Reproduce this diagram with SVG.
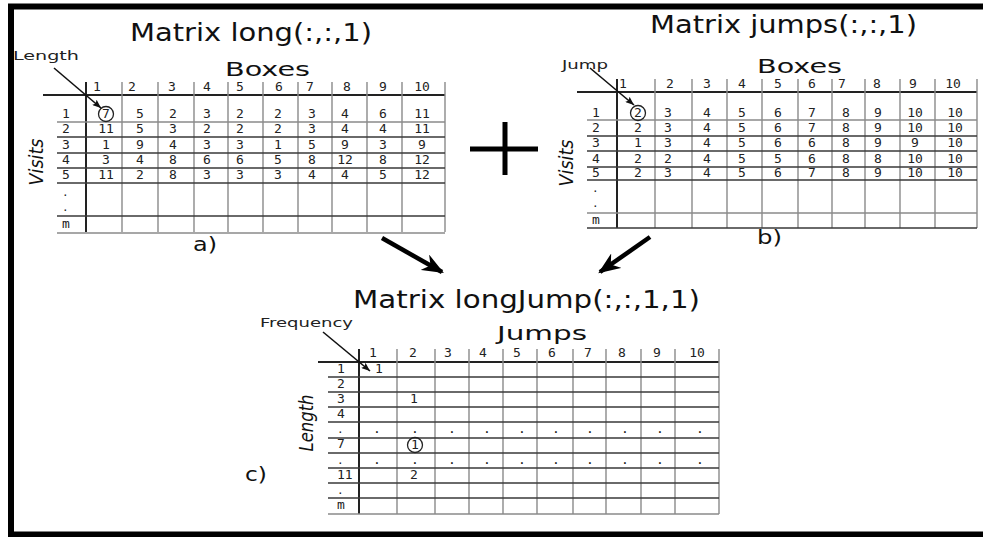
<svg xmlns="http://www.w3.org/2000/svg" width="983" height="537" viewBox="0 0 983 537">
<style>
.ti{font-family:"DejaVu Sans","Liberation Sans",sans-serif;font-size:24px;fill:#111}
.ax{font-family:"DejaVu Sans","Liberation Sans",sans-serif;font-size:19px;fill:#111}
.it{font-family:"DejaVu Sans","Liberation Sans",sans-serif;font-size:19px;font-style:italic;fill:#111;text-anchor:middle}
.sm{font-family:"DejaVu Sans","Liberation Sans",sans-serif;font-size:12px;fill:#222}
.n{font-family:"DejaVu Sans Mono","Liberation Mono",monospace;font-size:13px;fill:#222;text-anchor:middle}
.r{font-family:"DejaVu Sans Mono","Liberation Mono",monospace;font-size:13px;fill:#222}
.d{font-size:11px}
.gl{stroke:#8a8a8a;stroke-width:1.4;fill:none}
.gd{stroke:#3a3a3a;stroke-width:1.4;fill:none}
.hd{stroke:#222;stroke-width:2;fill:none}
.cr{fill:none;stroke:#222;stroke-width:1.3}
.pt{stroke:#111;stroke-width:1.6;fill:none}
.big{stroke:#000;stroke-width:4.5;fill:none}
</style>
<defs>
<marker id="bigHead" viewBox="0 0 20 16" refX="18" refY="8" markerWidth="22" markerHeight="18" orient="auto" markerUnits="userSpaceOnUse"><path d="M0,0 L20,8 L0,16 L6,8 z" fill="#000"/></marker>
<marker id="smHead" viewBox="0 0 10 8" refX="10" refY="4" markerWidth="9" markerHeight="7" orient="auto" markerUnits="userSpaceOnUse"><path d="M0,0 L10,4 L0,8 L2,4 z" fill="#111"/></marker>
</defs>
<rect width="983" height="537" fill="#fff"/>
<rect id="frame" x="11" y="6.5" width="1000" height="528" fill="none" stroke="#000" stroke-width="6"/>

<g id="matrix-long">
<text class="ti" x="130" y="41" textLength="242" lengthAdjust="spacingAndGlyphs">Matrix long(:,:,1)</text>
<text class="ax" x="225" y="76" textLength="85" lengthAdjust="spacingAndGlyphs">Boxes</text>
<text class="sm" x="13" y="60" textLength="66" lengthAdjust="spacingAndGlyphs">Length</text>
<text class="it" transform="translate(43,162) rotate(-90)" textLength="47" lengthAdjust="spacingAndGlyphs">Visits</text>
<text class="ax" x="193" y="251" textLength="24" lengthAdjust="spacingAndGlyphs">a)</text>
<path class="hd" d="M43,95 H445"/>
<path class="hd" d="M86,82 V232"/>
<path class="gl" d="M122,82 V232 M158,82 V232 M194,82 V232 M228,82 V232 M263,82 V232 M298,82 V232 M332,82 V232 M367,82 V232 M402,82 V232 M445,82 V232"/>
<path class="gl" d="M57,122 H445 M57,233 H445"/>
<path class="gd" d="M57,137 H445 M57,153 H445 M57,168 H445 M57,183 H445 M57,216 H445"/>
<g class="n">
<text x="97" y="91">1</text><text x="132" y="91">2</text><text x="172" y="91">3</text><text x="207" y="91">4</text><text x="240" y="91">5</text><text x="279" y="91">6</text><text x="310" y="91">7</text><text x="347" y="91">8</text><text x="383" y="91">9</text><text x="422" y="91">10</text>
</g>
<g class="r">
<text x="62" y="118">1</text><text x="62" y="133">2</text><text x="62" y="149">3</text><text x="62" y="164">4</text><text x="62" y="179">5</text><text class="d" x="62" y="196">.</text><text class="d" x="62" y="211">.</text><text x="62" y="228">m</text>
</g>
<circle class="cr" cx="106" cy="114" r="7.5"/>
<g class="n">
<text x="106" y="118">7</text><text x="140" y="118">5</text><text x="173" y="118">2</text><text x="207" y="118">3</text><text x="240" y="118">2</text><text x="278" y="118">2</text><text x="312" y="118">3</text><text x="345" y="118">4</text><text x="383" y="118">6</text><text x="422" y="118">11</text>
<text x="106" y="133">11</text><text x="140" y="133">5</text><text x="173" y="133">3</text><text x="207" y="133">2</text><text x="240" y="133">2</text><text x="278" y="133">2</text><text x="312" y="133">3</text><text x="345" y="133">4</text><text x="383" y="133">4</text><text x="422" y="133">11</text>
<text x="106" y="149">1</text><text x="140" y="149">9</text><text x="173" y="149">4</text><text x="207" y="149">3</text><text x="240" y="149">3</text><text x="278" y="149">1</text><text x="312" y="149">5</text><text x="345" y="149">9</text><text x="383" y="149">3</text><text x="422" y="149">9</text>
<text x="106" y="164">3</text><text x="140" y="164">4</text><text x="173" y="164">8</text><text x="207" y="164">6</text><text x="240" y="164">6</text><text x="278" y="164">5</text><text x="312" y="164">8</text><text x="345" y="164">12</text><text x="383" y="164">8</text><text x="422" y="164">12</text>
<text x="106" y="179">11</text><text x="140" y="179">2</text><text x="173" y="179">8</text><text x="207" y="179">3</text><text x="240" y="179">3</text><text x="278" y="179">3</text><text x="312" y="179">4</text><text x="345" y="179">4</text><text x="383" y="179">5</text><text x="422" y="179">12</text>
</g>
</g>

<g id="plus">
<path d="M470,149 H538 M505,122 V175" stroke="#000" stroke-width="5" fill="none"/>
</g>

<g id="matrix-jumps">
<text class="ti" x="650" y="33" textLength="267" lengthAdjust="spacingAndGlyphs">Matrix jumps(:,:,1)</text>
<text class="ax" x="757" y="73" textLength="85" lengthAdjust="spacingAndGlyphs">Boxes</text>
<text class="sm" x="562" y="69" textLength="46" lengthAdjust="spacingAndGlyphs">Jump</text>
<text class="it" transform="translate(573,163) rotate(-90)" textLength="47" lengthAdjust="spacingAndGlyphs">Visits</text>
<text class="ax" x="757" y="244" textLength="25" lengthAdjust="spacingAndGlyphs">b)</text>
<path class="hd" d="M577,92 H977"/>
<path class="hd" d="M617,79 V228"/>
<path class="gl" d="M655,79 V228 M692,79 V228 M727,79 V228 M762,79 V228 M798,79 V228 M832,79 V228 M865,79 V228 M900,79 V228 M935,79 V228 M977,79 V228"/>
<path class="gl" d="M587,120 H977 M587,213 H977"/>
<path class="gd" d="M587,136 H977 M587,151 H977 M587,167 H977 M587,180 H977 M587,228 H977"/>
<g class="n">
<text x="623" y="88">1</text><text x="670" y="88">2</text><text x="707" y="88">3</text><text x="742" y="88">4</text><text x="778" y="88">5</text><text x="812" y="88">6</text><text x="842" y="88">7</text><text x="877" y="88">8</text><text x="913" y="88">9</text><text x="953" y="88">10</text>
</g>
<g class="r">
<text x="592" y="117">1</text><text x="592" y="132">2</text><text x="592" y="147">3</text><text x="592" y="163">4</text><text x="592" y="177">5</text><text class="d" x="592" y="192">.</text><text class="d" x="592" y="207">.</text><text x="592" y="224">m</text>
</g>
<circle class="cr" cx="638" cy="113" r="7.5"/>
<g class="n">
<text x="638" y="117">2</text><text x="668" y="117">3</text><text x="707" y="117">4</text><text x="742" y="117">5</text><text x="778" y="117">6</text><text x="812" y="117">7</text><text x="846" y="117">8</text><text x="878" y="117">9</text><text x="915" y="117">10</text><text x="955" y="117">10</text>
<text x="638" y="132">2</text><text x="668" y="132">3</text><text x="707" y="132">4</text><text x="742" y="132">5</text><text x="778" y="132">6</text><text x="812" y="132">7</text><text x="846" y="132">8</text><text x="878" y="132">9</text><text x="915" y="132">10</text><text x="955" y="132">10</text>
<text x="638" y="147">1</text><text x="668" y="147">3</text><text x="707" y="147">4</text><text x="742" y="147">5</text><text x="778" y="147">6</text><text x="812" y="147">6</text><text x="846" y="147">8</text><text x="878" y="147">9</text><text x="915" y="147">9</text><text x="955" y="147">10</text>
<text x="638" y="163">2</text><text x="668" y="163">2</text><text x="707" y="163">4</text><text x="742" y="163">5</text><text x="778" y="163">5</text><text x="812" y="163">6</text><text x="846" y="163">8</text><text x="878" y="163">8</text><text x="915" y="163">10</text><text x="955" y="163">10</text>
<text x="638" y="177">2</text><text x="668" y="177">3</text><text x="707" y="177">4</text><text x="742" y="177">5</text><text x="778" y="177">6</text><text x="812" y="177">7</text><text x="846" y="177">8</text><text x="878" y="177">9</text><text x="915" y="177">10</text><text x="955" y="177">10</text>
</g>
</g>

<g id="matrix-longjump">
<text class="ti" x="353" y="308" font-size="25" textLength="347" lengthAdjust="spacingAndGlyphs">Matrix longJump(:,:,1,1)</text>
<text class="ax" x="497" y="340" font-size="20" textLength="90" lengthAdjust="spacingAndGlyphs">Jumps</text>
<text class="sm" x="260" y="327" textLength="93" lengthAdjust="spacingAndGlyphs">Frequency</text>
<text class="it" transform="translate(313,423) rotate(-90)" textLength="57" lengthAdjust="spacingAndGlyphs">Length</text>
<text class="ax" x="245" y="481" textLength="22" lengthAdjust="spacingAndGlyphs">c)</text>
<path class="hd" d="M318,362 H719"/>
<path class="hd" d="M359,349 V514" stroke-width="2.5"/>
<path class="gl" d="M397,349 V514 M435,349 V514 M469,349 V514 M503,349 V514 M537,349 V514 M573,349 V514 M606,349 V514 M641,349 V514 M675,349 V514 M719,349 V514"/>
<path class="gd" d="M328,377 H719 M328,392 H719 M328,407 H719 M328,422 H719 M328,438 H719 M328,453 H719 M328,468 H719 M328,483 H719 M328,498 H719"/>
<path class="gl" d="M328,514 H719"/>
<g class="n">
<text x="373" y="357">1</text><text x="413" y="357">2</text><text x="448" y="357">3</text><text x="483" y="357">4</text><text x="517" y="357">5</text><text x="552" y="357">6</text><text x="588" y="357">7</text><text x="622" y="357">8</text><text x="657" y="357">9</text><text x="697" y="357">10</text>
</g>
<g class="r">
<text x="337" y="373">1</text><text x="337" y="388">2</text><text x="337" y="403">3</text><text x="337" y="418">4</text><text class="d" x="337" y="433">.</text><text x="337" y="448">7</text><text class="d" x="337" y="464">.</text><text x="337" y="479">11</text><text class="d" x="337" y="494">.</text><text x="337" y="509">m</text>
</g>
<g class="n">
<text x="379" y="373">1</text>
<text x="414" y="403">1</text>
<text x="415" y="449">1</text>
<text x="414" y="479">2</text>
<text x="377" y="433">.</text><text x="415" y="433">.</text><text x="452" y="433">.</text><text x="487" y="433">.</text><text x="522" y="433">.</text><text x="556" y="433">.</text><text x="590" y="433">.</text><text x="625" y="433">.</text><text x="660" y="433">.</text><text x="700" y="433">.</text>
<text x="377" y="464">.</text><text x="415" y="464">.</text><text x="452" y="464">.</text><text x="487" y="464">.</text><text x="522" y="464">.</text><text x="556" y="464">.</text><text x="590" y="464">.</text><text x="625" y="464">.</text><text x="660" y="464">.</text><text x="700" y="464">.</text>
</g>
<circle class="cr" cx="415" cy="445" r="7.5"/>
</g>

<g id="connectors">
<path class="big" d="M382,238 L442,272" marker-end="url(#bigHead)"/>
<path class="big" d="M650,237 L600,272" marker-end="url(#bigHead)"/>
<path class="pt" d="M54,68 L101,108" marker-end="url(#smHead)"/>
<path class="pt" d="M590,68 L634,105" marker-end="url(#smHead)"/>
<path class="pt" d="M323,332 L370,371" marker-end="url(#smHead)"/>
</g>
</svg>
